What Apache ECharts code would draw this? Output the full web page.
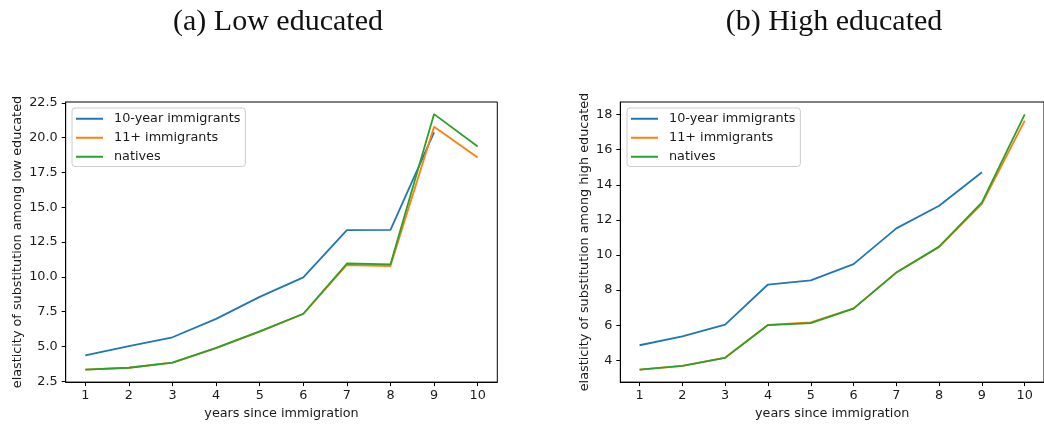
<!DOCTYPE html>
<html>
<head>
<meta charset="utf-8">
<script src="https://cdn.jsdelivr.net/npm/echarts@6/dist/echarts.min.js"></script>
<style>
html,body{margin:0;padding:0;background:#fff;}
#c{width:1044px;height:425px;}
</style>
</head>
<body>
<div id="c"></div>
<script>
// ---- data ----
const years = [1, 2, 3, 4, 5, 6, 7, 8, 9, 10];
const seriesNames = ['10-year immigrants', '11+ immigrants', 'natives'];

const lowTenYear = [4.36, 5.02, 5.66, 6.98, 8.56, 9.96, 13.36, 13.37, 20.37, null];
const lowElevenPlus = [3.33, 3.47, 3.84, 4.88, 6.07, 7.33, 10.85, 10.78, 20.78, 18.58];
const lowNatives = [3.33, 3.47, 3.84, 4.90, 6.08, 7.35, 10.96, 10.90, 21.69, 19.37];

const highTenYear = [4.86, 5.37, 6.04, 8.32, 8.56, 9.48, 11.52, 12.81, 14.72, null];
const highElevenPlus = [3.47, 3.69, 4.16, 6.02, 6.16, 6.96, 9.01, 10.46, 12.92, 17.66];
const highNatives = [3.47, 3.68, 4.14, 6.01, 6.12, 6.95, 9.00, 10.48, 13.00, 18.02];

const lowYTicks = [2.5, 5.0, 7.5, 10.0, 12.5, 15.0, 17.5, 20.0, 22.5];
const highYTicks = [4, 6, 8, 10, 12, 14, 16, 18];
const xTicks = [1, 2, 3, 4, 5, 6, 7, 8, 9, 10];

const titles = ['(a) Low educated', '(b) High educated'];
const yNames = ['elasticity of substitution among low educated', 'elasticity of substitution among high educated'];
const xName = 'years since immigration';

// ---- chart ----
const colors = ['#1f77b4', '#ff7f0e', '#2ca02c'];
const font = 'DejaVu Sans';
const fs = 12.8;
const txt = '#1a1a1a';

function pairs(vals) { return years.map((x, i) => [x, vals[i]]); }

function xAxis(idx) {
  return {
    type: 'value', gridIndex: idx, min: 0.55, max: 10.45,
    name: xName, nameLocation: 'middle', nameGap: 23,
    nameTextStyle: { fontFamily: font, fontSize: fs, color: txt },
    axisLine: { show: true, onZero: false, lineStyle: { color: '#000', width: 1 } },
    axisTick: { show: true, length: 4, lineStyle: { color: '#000', width: 1 }, customValues: xTicks },
    axisLabel: { fontFamily: font, fontSize: fs, color: txt, margin: 7, customValues: xTicks,
      formatter: v => String(v) },
    splitLine: { show: false }
  };
}
function yAxis(idx, min, max, ticks, dec, gap) {
  return {
    type: 'value', gridIndex: idx, min: min, max: max,
    name: yNames[idx], nameLocation: 'middle', nameGap: gap, nameRotate: 90,
    nameTextStyle: { fontFamily: font, fontSize: fs, color: txt },
    axisLine: { show: true, onZero: false, lineStyle: { color: '#000', width: 1 } },
    axisTick: { show: true, length: 4, lineStyle: { color: '#000', width: 1 }, customValues: ticks },
    axisLabel: { fontFamily: font, fontSize: fs, color: txt, margin: 8, customValues: ticks,
      formatter: v => Number(v).toFixed(dec) },
    splitLine: { show: false }
  };
}
function line(name, vals, idx, ci) {
  return {
    type: 'line', name: name, xAxisIndex: idx, yAxisIndex: idx,
    data: pairs(vals), showSymbol: false, symbol: 'none',
    connectNulls: false, animation: false,
    lineStyle: { color: colors[ci], width: 1.8 }, itemStyle: { color: colors[ci] }
  };
}
function legend(left) {
  return {
    orient: 'vertical', left: left, top: 108,
    data: seriesNames.map(n => ({ name: n })),
    icon: 'rect', itemWidth: 27, itemHeight: 2, itemGap: 5.5,
    padding: [4, 5, 3, 4],
    backgroundColor: 'rgba(255,255,255,0.8)', borderColor: '#cccccc', borderWidth: 1, borderRadius: 3,
    textStyle: { fontFamily: font, fontSize: fs, color: txt, padding: [0, 0, 0, 6], lineHeight: 13.5 },
    selectedMode: false
  };
}

const chart = echarts.init(document.getElementById('c'), null, { renderer: 'canvas' });
chart.setOption({
  animation: false,
  backgroundColor: '#fff',
  color: colors,
  title: [
    { text: titles[0], left: 273, top: 2, textAlign: 'center',
      textStyle: { fontFamily: 'Liberation Serif', fontSize: 30, fontWeight: 'normal', color: '#111' } },
    { text: titles[1], left: 829, top: 2, textAlign: 'center',
      textStyle: { fontFamily: 'Liberation Serif', fontSize: 30, fontWeight: 'normal', color: '#111' } }
  ],
  grid: [
    { left: 65.7, top: 102, width: 431.6, height: 280.3, show: true, borderColor: '#000', borderWidth: 1, backgroundColor: 'transparent' },
    { left: 620.3, top: 102, width: 432, height: 280.3, show: true, borderColor: '#000', borderWidth: 1, backgroundColor: 'transparent' }
  ],
  xAxis: [xAxis(0), xAxis(1)],
  yAxis: [yAxis(0, 2.44, 22.56, lowYTicks, 1, 42), yAxis(1, 2.76, 18.72, highYTicks, 0, 29)],
  legend: [legend(72), legend(627)],
  series: [
    line(seriesNames[0], lowTenYear, 0, 0),
    line(seriesNames[1], lowElevenPlus, 0, 1),
    line(seriesNames[2], lowNatives, 0, 2),
    line(seriesNames[0], highTenYear, 1, 0),
    line(seriesNames[1], highElevenPlus, 1, 1),
    line(seriesNames[2], highNatives, 1, 2)
  ]
});
</script>
</body>
</html>
